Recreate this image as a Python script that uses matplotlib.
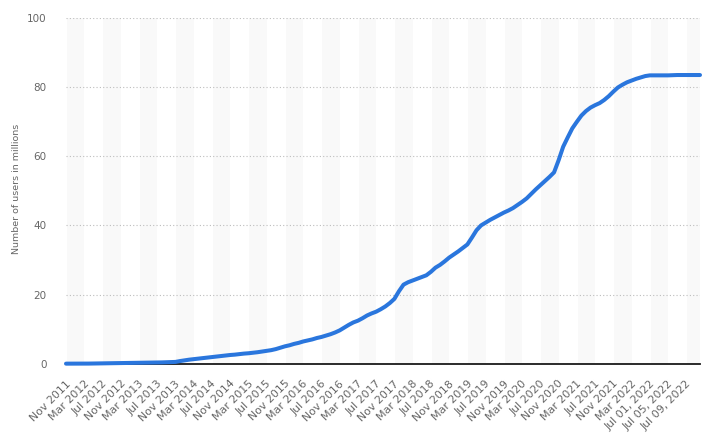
import matplotlib
matplotlib.use("Agg")
import matplotlib.pyplot as plt
from matplotlib.transforms import ScaledTranslation

# ---- data ----
month_names = ["Jan", "Feb", "Mar", "Apr", "May", "Jun", "Jul", "Aug", "Sep", "Oct", "Nov", "Dec"]
categories = []
y, m = 2011, 10
while (y, m) <= (2022, 5):
    categories.append(f"{month_names[m]} {y}")
    m += 1
    if m == 12:
        m, y = 0, y + 1
categories += [f"Jul {d:02d}, 2022" for d in range(1, 13)]

users = [
    0.10, 0.10, 0.10, 0.10, 0.12, 0.12, 0.14, 0.15, 0.16, 0.18,   # 0-9
    0.20, 0.22, 0.24, 0.26, 0.28, 0.30, 0.32, 0.35, 0.38, 0.40,   # 10-19
    0.43, 0.46, 0.50, 0.53, 0.60, 0.85, 1.05, 1.25, 1.40, 1.55,   # 20-29
    1.70, 1.85, 2.00, 2.15, 2.30, 2.45, 2.60, 2.70, 2.85, 3.00,   # 30-39
    3.10, 3.25, 3.40, 3.60, 3.80, 4.00, 4.30, 4.70, 5.10, 5.40,   # 40-49
    5.80, 6.10, 6.50, 6.80, 7.10, 7.50, 7.80, 8.20, 8.60, 9.10,   # 50-59
    9.70, 10.5, 11.3, 12.0, 12.5, 13.2, 14.0, 14.6, 15.1, 15.8,   # 60-69
    16.6, 17.6, 18.8, 21.0, 22.9, 23.6, 24.1, 24.6, 25.1, 25.6,   # 70-79
    26.6, 27.8, 28.6, 29.6, 30.7, 31.6, 32.5, 33.5, 34.5, 36.5,   # 80-89
    38.6, 40.0, 40.8, 41.6, 42.3, 43.0, 43.7, 44.3, 45.0, 45.9,   # 90-99
    46.8, 47.8, 49.1, 50.4, 51.6, 52.8, 54.0, 55.3, 58.8, 62.7,   # 100-109
    65.4, 68.0, 69.9, 71.7, 73.0, 74.0, 74.7, 75.3, 76.2, 77.3,   # 110-119
    78.6, 79.8, 80.6, 81.3, 81.8, 82.3, 82.7, 83.1, 83.3, 83.3,   # 120-129
    83.3, 83.3, 83.3, 83.35, 83.4, 83.4, 83.4, 83.4, 83.4, 83.4,  # 130-139
]
y_ticks = [0, 20, 40, 60, 80, 100]

N = len(users)

# ---- figure ----
fig = plt.figure(figsize=(7.14, 4.41), dpi=100)
ax = fig.add_axes([66 / 714, 1 - 364 / 441, 634 / 714, (364 - 17.5) / 441])

xs = list(range(N))
for k in range(0, N, 8):
    ax.axvspan(k + 0.2, min(k + 4.0, N - 1), color="#f9f9f9", lw=0, zorder=0)

ax.plot(xs, users, color="#2a76dd", lw=2.9, solid_capstyle="round",
        solid_joinstyle="round", clip_on=False, zorder=3)

ax.set_xlim(0, N - 1)
ax.set_ylim(0, 100)
ax.set_yticks(y_ticks)
ax.yaxis.grid(True, linestyle=(0, (1, 2)), color="#bdbdbd", lw=0.8)
ax.set_axisbelow(True)

for s in ["top", "right", "left"]:
    ax.spines[s].set_visible(False)
ax.spines["bottom"].set_color("#1a1a1a")
ax.spines["bottom"].set_linewidth(1.3)
ax.spines["bottom"].set_zorder(2)

ax.tick_params(axis="y", length=0, pad=14, labelcolor="#666666", labelsize=7.5)
ax.set_xticks(xs[::4])
ax.set_xticklabels(categories[::4], rotation=45, ha="right", va="center",
                   rotation_mode="anchor")
ax.tick_params(axis="x", length=0, pad=13, labelcolor="#666666", labelsize=7.9)
shift = ScaledTranslation(3 / 100, 0, fig.dpi_scale_trans)
for lbl in ax.get_xticklabels():
    lbl.set_transform(lbl.get_transform() + shift)

fig.text(17 / 714, 1 - 189 / 441, "Number of users in millions", rotation=90,
         ha="center", va="center", color="#666666", fontsize=6.8)

fig.savefig("out.png", dpi=100)
